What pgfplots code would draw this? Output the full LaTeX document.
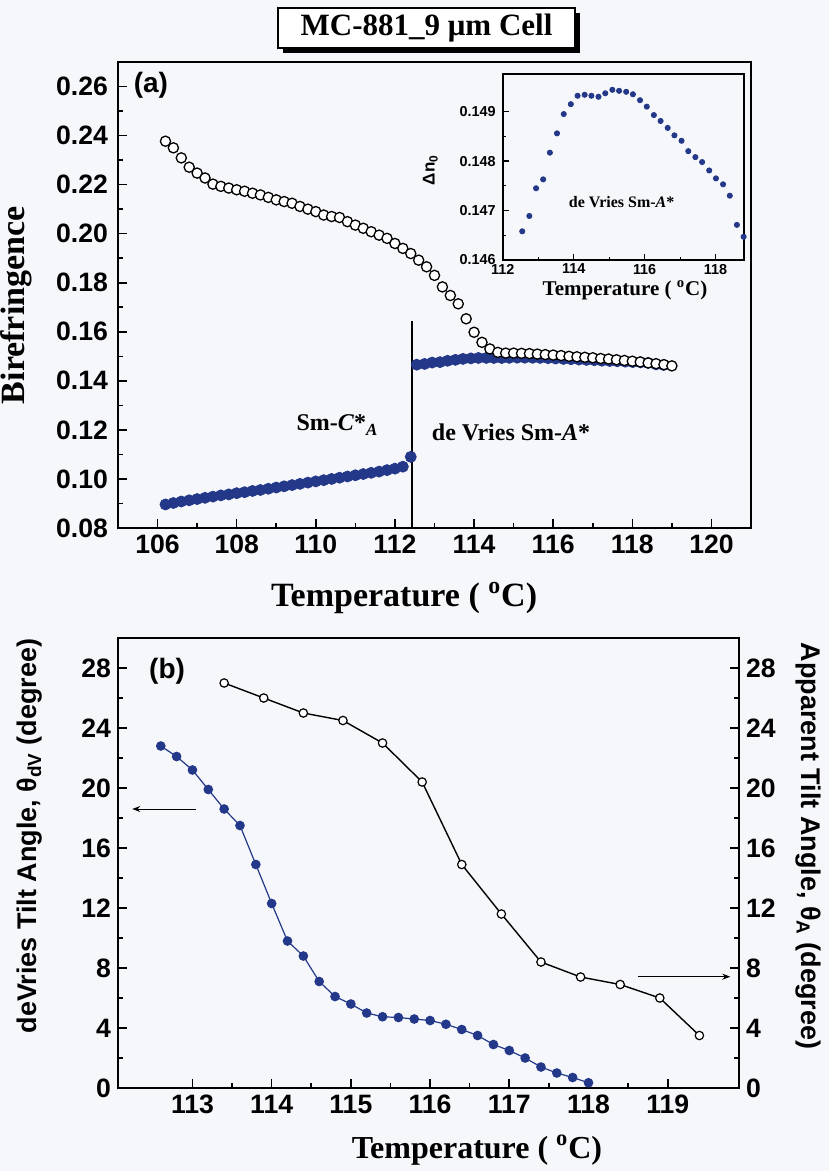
\documentclass[border=0pt]{standalone}
\usepackage{fontspec}
\setmainfont{Liberation Serif}
\setsansfont{Liberation Sans}
\usepackage{pgfplots}
\usepackage{pgfplotstable}
\pgfplotsset{compat=1.18}
\usetikzlibrary{arrows.meta}
\definecolor{dotblue}{RGB}{36,56,138}
\definecolor{bg}{RGB}{246,247,250}

\pgfplotstableread{
T v
106.2 0.2377
106.4 0.2350
106.6 0.2309
106.8 0.2271
107.0 0.2247
107.2 0.2227
107.4 0.2202
107.6 0.2193
107.8 0.2186
108.0 0.2179
108.2 0.2173
108.4 0.2165
108.6 0.2158
108.8 0.2148
109.0 0.2138
109.2 0.2131
109.4 0.2124
109.6 0.2111
109.8 0.2100
110.0 0.2090
110.2 0.2076
110.4 0.2070
110.6 0.2066
110.8 0.2049
111.0 0.2035
111.2 0.2022
111.4 0.2008
111.6 0.1994
111.8 0.1981
112.0 0.1960
112.2 0.1940
112.4 0.1919
112.6 0.1892
112.8 0.1865
113.0 0.1830
113.2 0.1783
113.4 0.1748
113.6 0.1714
113.8 0.1653
114.0 0.1598
114.2 0.1557
114.4 0.1530
114.6 0.1516
114.8 0.1513
115.0 0.1513
115.2 0.1512
115.4 0.1511
115.6 0.1509
115.8 0.1507
116.0 0.1505
116.2 0.1503
116.4 0.1500
116.6 0.1498
116.8 0.1496
117.0 0.1494
117.2 0.1491
117.4 0.1489
117.6 0.1486
117.8 0.1483
118.0 0.1480
118.2 0.1477
118.4 0.1473
118.6 0.1470
118.8 0.1466
119.0 0.1461
}\opentable

\pgfplotstableread{
T v
106.2 0.0896
106.4 0.0902
106.6 0.0908
106.8 0.0913
107.0 0.0918
107.2 0.0923
107.4 0.0928
107.6 0.0933
107.8 0.0937
108.0 0.0942
108.2 0.0946
108.4 0.0951
108.6 0.0955
108.8 0.0960
109.0 0.0965
109.2 0.0970
109.4 0.0975
109.6 0.0980
109.8 0.0985
110.0 0.0990
110.2 0.0995
110.4 0.1000
110.6 0.1005
110.8 0.1010
111.0 0.1015
111.2 0.1020
111.4 0.1025
111.6 0.1030
111.8 0.1036
112.0 0.1042
112.2 0.1050
112.4 0.1090
}\smctable

\pgfplotstableread{
T v
112.55 0.14658
112.75 0.14689
112.94 0.14745
113.14 0.14763
113.33 0.14817
113.53 0.14856
113.72 0.14895
113.92 0.14915
114.11 0.14932
114.31 0.14934
114.50 0.14932
114.70 0.14930
114.89 0.14937
115.09 0.14944
115.28 0.14942
115.48 0.14940
115.67 0.14935
115.87 0.14923
116.06 0.14910
116.26 0.14893
116.45 0.14881
116.65 0.14867
116.84 0.14852
117.04 0.14841
117.23 0.14820
117.43 0.14808
117.62 0.14798
117.82 0.14781
118.01 0.14765
118.21 0.14753
118.40 0.14730
118.60 0.14671
118.79 0.14647
}\smatable

\pgfplotstableread{
T th
112.6 22.8
112.8 22.1
113.0 21.2
113.2 19.9
113.4 18.6
113.6 17.5
113.8 14.9
114.0 12.3
114.2 9.8
114.4 8.8
114.6 7.1
114.8 6.1
115.0 5.6
115.2 5.0
115.4 4.75
115.6 4.7
115.8 4.6
116.0 4.5
116.2 4.25
116.4 3.9
116.6 3.5
116.8 2.9
117.0 2.5
117.2 2.0
117.4 1.4
117.6 1.0
117.8 0.7
118.0 0.35
}\dvtable

\pgfplotstableread{
T th
113.4 27.0
113.9 26.0
114.4 25.0
114.9 24.5
115.4 23.0
115.9 20.4
116.4 14.9
116.9 11.6
117.4 8.4
117.9 7.4
118.4 6.9
118.9 6.0
119.4 3.5
}\apptable

\pgfplotsset{
  common/.style={scale only axis, anchor=north west, tick align=inside,
    axis line style={line width=1pt},
    major tick length=4.5pt, minor tick length=2.5pt,
    every tick/.style={black, line width=0.8pt},
    /pgf/number format/assume math mode=true},
}

\begin{document}
\begin{tikzpicture}
\fill[bg] (0,0) rectangle (414.5pt,-585.5pt);
\path[use as bounding box] (0,0) rectangle (414.5pt,-585.5pt);

% title box
\fill[black] (141.5pt,-6.5pt) rectangle (290pt,-26.5pt);
\filldraw[fill=white, draw=black, line width=0.6pt] (139pt,-4pt) rectangle (287.5pt,-24pt);
\node[font=\fontsize{15.5}{18}\selectfont\bfseries] at (213.25pt,-14pt) {MC-881\_9 μm Cell};

% ---------- panel (a) ----------
\begin{axis}[common, at={(59pt,-31pt)}, width=316.5pt, height=233pt,
  xmin=105, xmax=121, ymin=0.08, ymax=0.27,
  xtick={106,108,110,112,114,116,118,120},
  ytick={0.08,0.10,0.12,0.14,0.16,0.18,0.20,0.22,0.24,0.26},
  minor tick num=1, tick pos=left,
  ticklabel style={font=\fontsize{13.3}{15}\selectfont\sffamily\bfseries},
  yticklabel style={xshift=-1.5pt, /pgf/number format/.cd, fixed, fixed zerofill, precision=2},
  xlabel={Temperature ( \textsuperscript{o}C)}, ylabel={Birefringence},
  label style={font=\fontsize{17}{20}\selectfont\bfseries},
  xlabel style={at={(axis description cs:0.452,-0.15)}, anchor=center},
  ylabel style={at={(axis description cs:-0.16,0.478)}, anchor=center},
]
\addplot[black, line width=0.6pt] coordinates {(112.43,0.08) (112.43,0.1645)};
\addplot[only marks, mark=*, mark size=2.75pt, mark options={draw=dotblue, fill=dotblue}] table[x=T,y=v] {\smctable};
\addplot[only marks, mark=*, mark size=2.75pt, mark options={draw=dotblue, fill=dotblue}] table[x=T,y=v] {\smatable};
\addplot[only marks, mark=*, mark size=2.55pt, mark options={draw=black, fill=white, line width=0.65pt}] table[x=T,y=v] {\opentable};
\node[font=\fontsize{14}{16}\selectfont\sffamily\bfseries] at (axis description cs:0.052,0.951) {(a)};
\node[font=\fontsize{12}{14}\selectfont\bfseries] at (axis description cs:0.346,0.221) {Sm-\textit{C}*\raisebox{-0.45ex}{\fontsize{8.5}{9}\selectfont\textit{A}}};
\node[font=\fontsize{12}{14}\selectfont\bfseries] at (axis description cs:0.621,0.206) {de Vries Sm-\textit{A}*};
\end{axis}

% ---------- inset ----------
\begin{axis}[common, at={(251.35pt,-37pt)}, width=120.65pt, height=93pt,
  xmin=112, xmax=118.8, ymin=0.146, ymax=0.14976,
  xtick={112,114,116,118}, ytick={0.146,0.147,0.148,0.149},
  minor tick num=1, tick pos=left,
  major tick length=3pt, minor tick length=1.7pt,
  every tick/.style={black, line width=0.6pt},
  axis line style={line width=0.9pt},
  ticklabel style={font=\fontsize{7.2}{8}\selectfont\sffamily\bfseries},
  xticklabel style={yshift=1.5pt},
  yticklabel style={/pgf/number format/.cd, fixed, fixed zerofill, precision=3},
  scaled y ticks=false,
  xlabel={Temperature ( \textsuperscript{o}C)}, ylabel={Δn\textsubscript{0}},
  xlabel style={font=\fontsize{10.5}{12}\selectfont\bfseries, at={(axis description cs:0.507,-0.165)}, anchor=center},
  ylabel style={font=\fontsize{8.5}{10}\selectfont\sffamily\bfseries, at={(axis description cs:-0.3,0.484)}, anchor=center},
]
\addplot[only marks, mark=*, mark size=1.3pt, mark options={draw=dotblue, fill=dotblue}] table[x=T,y=v] {\smatable};
\node[font=\fontsize{8}{10}\selectfont\bfseries] at (axis description cs:0.493,0.313) {de Vries Sm-\textit{A}*};
\end{axis}

% ---------- panel (b) ----------
\begin{axis}[common, at={(59pt,-319pt)}, width=310.5pt, height=225pt,
  xmin=112.06, xmax=119.9, ymin=0, ymax=30,
  xtick={113,114,115,116,117,118,119}, ytick={0,4,8,12,16,20,24,28},
  minor tick num=1, tick pos=left,
  ticklabel style={font=\fontsize{13.3}{15}\selectfont\sffamily\bfseries},
  xlabel={Temperature ( \textsuperscript{o}C)},
  ylabel={deVries Tilt Angle, θ\textsubscript{dV} (degree)},
  xlabel style={font=\fontsize{16}{19}\selectfont\bfseries, at={(axis description cs:0.578,-0.138)}, anchor=center},
  ylabel style={font=\fontsize{13.5}{16}\selectfont\sffamily\bfseries, at={(axis description cs:-0.142,0.56)}, anchor=center},
]
\addplot[dotblue, line width=0.6pt, mark=*, mark size=2.1pt, mark options={draw=dotblue, fill=dotblue}] table[x=T,y=th] {\dvtable};
\draw[-{Stealth[length=4pt,width=3pt]}, line width=0.5pt] (axis cs:113.05,18.6) -- (axis cs:112.24,18.6);
\draw[-{Stealth[length=4pt,width=3pt]}, line width=0.5pt] (axis cs:118.62,7.42) -- (axis cs:119.79,7.42);
\node[font=\fontsize{14}{16}\selectfont\sffamily\bfseries] at (axis description cs:0.079,0.927) {(b)};
\end{axis}

\begin{axis}[common, at={(59pt,-319pt)}, width=310.5pt, height=225pt,
  xmin=112.06, xmax=119.9, ymin=0, ymax=30,
  axis x line=none, axis y line*=right,
  ytick={0,4,8,12,16,20,24,28}, minor tick num=1, ytick pos=right,
  ticklabel style={font=\fontsize{13.3}{15}\selectfont\sffamily\bfseries},
  ylabel={Apparent Tilt Angle, θ\textsubscript{A} (degree)},
  ylabel style={font=\fontsize{13.5}{16}\selectfont\sffamily\bfseries, rotate=180, at={(axis description cs:1.111,0.538)}, anchor=center},
]
\addplot[black, line width=0.7pt, mark=*, mark size=2.1pt, mark options={draw=black, fill=white, line width=0.6pt}] table[x=T,y=th] {\apptable};
\end{axis}
\end{tikzpicture}
\end{document}
